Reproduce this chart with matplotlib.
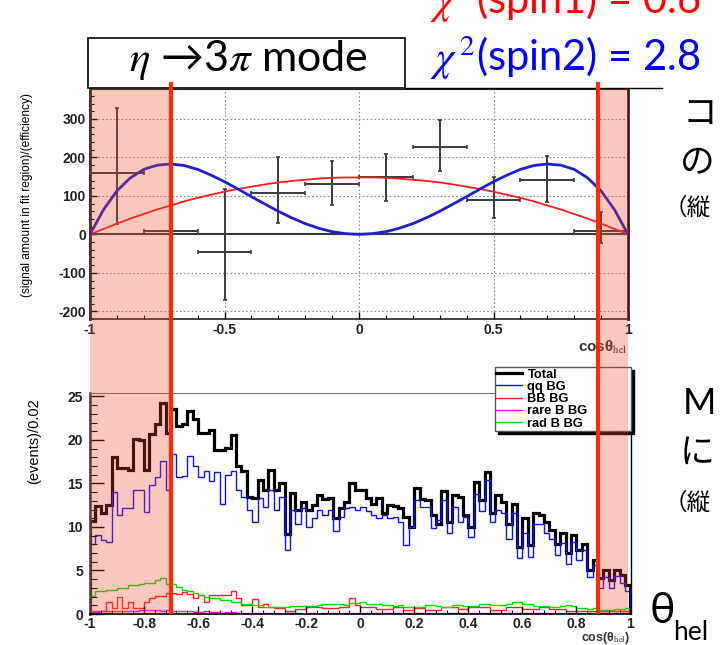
import numpy as np
import matplotlib
matplotlib.use('Agg')
import matplotlib.pyplot as plt
import matplotlib.transforms as mtransforms
from matplotlib.patches import Rectangle
from matplotlib.lines import Line2D

plt.rcParams['font.family'] = ['Liberation Sans', 'DejaVu Sans']
plt.rcParams['mathtext.fontset'] = 'stix'

# ---- top panel: efficiency corrected signal yield vs cos(theta_hel)
bin_centers = [-0.9, -0.7, -0.5, -0.3, -0.1, 0.1, 0.3, 0.5, 0.7, 0.9]
signal_yield = [160, 10, -47, 108, 130, 148, 227, 90, 142, 8]
err_low = [134, 92, 124, 78, 54, 61, 62, 48, 57, 31]
err_high = [169, 114, 165, 92, 62, 61, 71, 59, 62, 51]
bin_halfwidth = 0.1

curve_x = [-1.0, -0.95, -0.9, -0.85, -0.8, -0.75, -0.7, -0.65, -0.6, -0.55, -0.5,
           -0.45, -0.4, -0.35, -0.3, -0.25, -0.2, -0.15, -0.1, -0.05, 0.0,
           0.05, 0.1, 0.15, 0.2, 0.25, 0.3, 0.35, 0.4, 0.45, 0.5,
           0.55, 0.6, 0.65, 0.7, 0.75, 0.8, 0.85, 0.9, 0.95, 1.0]
spin1_fit = [0, 14, 28, 41, 53, 65, 75, 86, 95, 103, 111,
             118, 124, 130, 135, 139, 142, 145, 147, 148, 148,
             148, 147, 145, 142, 139, 135, 130, 124, 118, 111,
             103, 95, 86, 75, 65, 53, 41, 28, 14, 0]
spin2_fit = [0, 64, 113, 147, 169, 180, 183, 179, 169, 154, 137,
             118, 98, 79, 60, 43, 28, 16, 7, 2, 0,
             2, 7, 16, 28, 43, 60, 79, 98, 118, 137,
             154, 169, 179, 183, 180, 169, 147, 113, 64, 0]

# ---- bottom panel: background MC, 100 bins of 0.02
hist_edges = np.linspace(-1, 1, 101)
total = [10.7, 12.4, 11.6, 12.5, 18.0, 16.8, 16.8, 16.5, 20.1, 20.0,
         16.6, 20.7, 21.8, 24.3, 20.8, 23.6, 21.6, 21.8, 23.3, 22.4,
         20.8, 20.8, 21.2, 18.9, 18.9, 19.1, 20.6, 17.0, 16.4, 13.4,
         13.3, 15.4, 14.2, 16.6, 14.3, 15.0, 9.2, 13.9, 12.0, 12.9,
         12.0, 12.5, 13.7, 13.2, 13.3, 11.0, 12.2, 12.9, 15.0, 14.3,
         14.3, 13.3, 12.7, 13.3, 11.6, 12.5, 12.4, 12.2, 11.2, 10.0,
         14.5, 13.2, 13.1, 11.4, 10.4, 14.1, 10.6, 13.7, 13.5, 11.4,
         10.0, 15.2, 13.1, 16.3, 11.6, 13.7, 12.9, 10.4, 12.6, 7.7,
         11.0, 7.9, 11.6, 11.4, 10.6, 9.6, 8.1, 9.3, 7.0, 9.1,
         7.4, 8.1, 5.1, 6.2, 4.1, 5.1, 3.9, 5.1, 4.5, 3.3]
qq_bg = [8.0, 9.1, 8.5, 8.3, 14.0, 11.4, 12.2, 12.2, 14.2, 14.3,
         11.7, 14.8, 15.8, 17.6, 14.3, 18.4, 15.7, 15.9, 18.2, 17.0,
         15.7, 16.4, 15.3, 16.3, 12.7, 16.0, 16.4, 14.3, 13.5, 12.0,
         10.6, 13.3, 12.3, 14.3, 12.0, 13.5, 7.4, 12.0, 10.4, 12.2,
         10.0, 11.0, 12.0, 11.4, 12.0, 9.5, 11.2, 12.2, 12.3, 12.0,
         12.3, 11.8, 11.4, 11.0, 11.4, 11.0, 11.2, 10.6, 7.9, 10.0,
         13.1, 12.3, 12.3, 9.9, 10.8, 13.1, 9.3, 12.3, 10.6, 11.2,
         8.9, 13.8, 11.8, 15.4, 10.6, 12.0, 11.6, 8.6, 11.6, 6.4,
         9.3, 6.5, 10.4, 10.4, 9.3, 8.6, 6.8, 8.2, 5.8, 8.3,
         6.2, 7.4, 4.2, 5.6, 3.0, 4.2, 3.0, 4.4, 3.6, 2.6]
bb_bg = [0.3, 0.3, 0.3, 1.4, 0.65, 2.0, 0.65, 1.4, 0.65, 0.65,
         1.4, 1.8, 2.1, 2.1, 2.4, 2.4, 2.3, 2.5, 2.3, 1.8,
         2.2, 1.4, 2.2, 2.2, 2.2, 2.2, 2.6, 1.8, 1.0, 1.0,
         1.7, 0.85, 1.2, 0.85, 0.65, 0.65, 0.3, 0.3, 0.55, 0.55,
         0.85, 0.85, 0.85, 0.65, 0.65, 0.65, 0.85, 0.85, 1.8, 1.0,
         0.85, 0.75, 0.75, 0.55, 0.55, 0.55, 0.85, 0.85, 0.45, 0.45,
         0.65, 0.65, 0.45, 0.45, 0.45, 0.75, 0.75, 0.75, 0.55, 0.55,
         0.75, 0.75, 0.75, 0.75, 0.45, 0.45, 0.45, 0.85, 0.85, 0.85,
         0.55, 0.55, 0.55, 0.85, 0.85, 0.55, 0.55, 0.55, 0.35, 0.35,
         0.35, 0.35, 0.3, 0.3, 0.3, 0.3, 0.3, 0.3, 0.3, 0.3]
rare_bg = [0.25, 0.25, 0.3, 0.3, 0.3, 0.35, 0.35, 0.4, 0.4, 0.45,
           0.45, 0.5, 0.45, 0.4, 0.45, 0.35, 0.3, 0.35, 0.3, 0.25,
           0.25, 0.3, 0.2, 0.25, 0.15, 0.2, 0.2, 0.1, 0.15, 0.15,
           0.1, 0.1, 0.15, 0.1, 0.1, 0.05, 0.1, 0.1, 0.1, 0.05,
           0.1, 0.1, 0.05, 0.1, 0.15, 0.1, 0.1, 0.15, 0.15, 0.1,
           0.15, 0.1, 0.15, 0.1, 0.1, 0.15, 0.1, 0.1, 0.15, 0.1,
           0.1, 0.15, 0.1, 0.1, 0.1, 0.15, 0.1, 0.1, 0.1, 0.15,
           0.1, 0.1, 0.15, 0.1, 0.1, 0.1, 0.15, 0.1, 0.1, 0.1,
           0.15, 0.1, 0.1, 0.1, 0.1, 0.1, 0.1, 0.1, 0.1, 0.1,
           0.1, 0.05, 0.1, 0.1, 0.1, 0.1, 0.05, 0.1, 0.1, 0.1]
rad_bg = [2.1, 2.6, 2.6, 2.8, 2.8, 3.0, 3.0, 3.3, 3.3, 3.4,
          3.6, 3.6, 3.9, 4.1, 3.5, 3.4, 3.1, 2.8, 2.6, 2.4,
          2.2, 2.0, 1.8, 1.8, 1.6, 1.6, 1.4, 1.4, 1.2, 1.2,
          1.0, 1.0, 0.85, 0.85, 0.8, 0.75, 0.75, 0.9, 0.9, 0.95,
          0.95, 0.9, 1.0, 1.1, 1.1, 1.2, 1.2, 1.0, 1.3, 1.3,
          1.4, 1.2, 1.15, 1.1, 1.0, 1.0, 0.95, 1.0, 0.85, 0.85,
          0.8, 0.85, 1.0, 1.0, 0.9, 0.85, 0.8, 1.0, 1.0, 0.9,
          0.95, 0.95, 1.2, 1.1, 1.0, 1.0, 1.0, 1.1, 1.4, 1.4,
          1.1, 1.1, 0.95, 0.95, 0.9, 0.85, 0.8, 0.9, 1.0, 0.9,
          0.65, 0.7, 0.6, 0.65, 0.5, 0.45, 0.45, 0.55, 0.6, 0.65]

# helicity cut window
cut_low = -0.7
cut_high = 0.89

W, H = 720, 645
def fx(px): return px / W
def fy(py): return 1 - py / H

fig = plt.figure(figsize=(7.2, 6.45), dpi=100)

def bold_ticks(ax):
  for t in ax.get_xticklabels() + ax.get_yticklabels():
    t.set_fontweight('bold')
    t.set_color('#222222')

# ---------------- top plot
ax = fig.add_axes([fx(90), fy(319), fx(628) - fx(90), fy(89) - fy(319)])
ax.set_xlim(-1, 1)
ax.set_ylim(-220, 378)
ax.grid(True, which='major', color='#8a8a8a', ls=(0, (1.5, 2)), lw=0.8)
ax.set_axisbelow(True)
ax.axhline(0, color='#3a3a3a', lw=1.5, zorder=2)
ax.errorbar(bin_centers, signal_yield, xerr=bin_halfwidth, yerr=[err_low, err_high],
            fmt='none', ecolor='#3a3a3a', elinewidth=1.4, capsize=1.5, capthick=1.2, zorder=3)
ax.plot(curve_x, spin1_fit, color='#ff1a1a', lw=1.3, zorder=4)
ax.plot(curve_x, spin2_fit, color='#1f1fcc', lw=2.0, zorder=4)
ax.set_xticks([-1, -0.5, 0, 0.5, 1])
ax.set_xticklabels(['-1', '-0.5', '0', '0.5', '1'])
ax.set_xticks(np.arange(-1, 1.001, 0.1), minor=True)
ax.set_yticks([-200, -100, 0, 100, 200, 300])
ax.set_yticklabels(['-200', '-100', '0', '100', '200', '300'])
ax.set_yticks(np.arange(-220, 378, 20), minor=True)
ax.tick_params(which='both', direction='in', top=False, right=False, labelsize=10, pad=3)
ax.tick_params(which='major', length=5, width=1)
ax.tick_params(which='minor', length=3, width=0.8)
bold_ticks(ax)
for s, lw in (('left', 2.0), ('right', 2.0), ('bottom', 1.2), ('top', 0.8)):
  ax.spines[s].set_linewidth(lw)
  ax.spines[s].set_color('#222222')
ax.set_ylabel('(signal amount in fit region)/(efficiency)', fontsize=8.6)
ax.yaxis.set_label_coords(-0.106, 0.54)
ax.set_xlabel(r'cosθ$_{\mathrm{hel}}$', loc='right', fontsize=11, fontweight='bold',
              color='#333333', labelpad=1)

# ---------------- bottom plot
bx = fig.add_axes([fx(90), fy(614), fx(630.5) - fx(90), fy(393) - fy(614)])
bx.set_xlim(-1, 1)
bx.set_ylim(0, 25.4)
bx.stairs(total, hist_edges, color='black', lw=2.3, label='Total')
bx.stairs(qq_bg, hist_edges, color='#1010ff', lw=1.0, label='qq BG')
bx.stairs(bb_bg, hist_edges, color='#ff2020', lw=1.0, label='BB BG')
bx.stairs(rare_bg, hist_edges, color='#ff00ff', lw=1.0, label='rare B BG')
bx.stairs(rad_bg, hist_edges, color='#00e000', lw=1.0, label='rad B BG')
bx.set_xticks(np.arange(-1, 1.001, 0.2))
bx.set_xticklabels(['-1', '-0.8', '-0.6', '-0.4', '-0.2', '0', '0.2', '0.4', '0.6', '0.8', '1'])
bx.set_xticks(np.arange(-1, 1.001, 0.04), minor=True)
bx.set_yticks([0, 5, 10, 15, 20, 25])
bx.set_yticks(np.arange(0, 25.5, 1), minor=True)
bx.tick_params(which='both', direction='in', top=False, right=False, labelsize=10, pad=2)
bx.tick_params(axis='y', which='major', length=10, width=1, pad=5)
bx.tick_params(axis='y', which='minor', length=5, width=0.8)
bx.tick_params(axis='x', which='major', length=6, width=1)
bx.tick_params(axis='x', which='minor', length=3, width=0.8)
bold_ticks(bx)
bx.spines['top'].set_color('#777777')
bx.spines['top'].set_linewidth(0.8)
bx.spines['left'].set_linewidth(1.8)
bx.spines['left'].set_color('#333333')
bx.spines['right'].set_linewidth(1.0)
bx.spines['bottom'].set_linewidth(1.2)
bx.set_ylabel('(events)/0.02', loc='top', fontsize=10.5)
bx.yaxis.set_label_coords(-0.091, 0.977)
bx.set_xlabel(r'cos(θ$_{\mathrm{hel}}$)', loc='right', fontsize=9, fontweight='bold',
              color='#333333')
bx.xaxis.set_label_coords(1.0, -0.072)
leg = bx.legend(loc='upper left', bbox_to_anchor=(0.749, 1.118, 0.2516, 0), mode='expand',
                borderaxespad=0, prop={'weight': 'bold', 'size': 9.3},
                labelspacing=0.02, borderpad=0.12, handlelength=2.0, handletextpad=0.4,
                fancybox=False, edgecolor='#555555', framealpha=1,
                shadow={'color': 'black', 'alpha': 1})
leg.get_frame().set_linewidth(1.0)

# ---------------- slide overlays: cut window shading and cut lines
blend = mtransforms.blended_transform_factory(ax.transData, fig.transFigure)
for x0, x1 in ((-1, cut_low), (cut_high, 1)):
  fig.add_artist(Rectangle((x0, fy(613)), x1 - x0, fy(89) - fy(613), transform=blend,
                           facecolor='#ee4826', alpha=0.3, edgecolor='none', zorder=5))
for xc in (cut_low, cut_high):
  fig.add_artist(Line2D([xc, xc], [fy(612), fy(84)], transform=blend,
                        color='#ff2a00', lw=3.0, zorder=6))

# image border line and mode box
fig.add_artist(Line2D([fx(405), fx(662)], [fy(87.5), fy(87.5)], color='black', lw=1.0))
fig.add_artist(Rectangle((fx(88), fy(88)), fx(405) - fx(88), fy(38) - fy(88),
                         transform=fig.transFigure, fill=False, edgecolor='black', lw=1.2))
lato = ['Lato', 'DejaVu Sans']
fig.text(fx(248), fy(60), r'$\eta$ →3$\pi$ mode', ha='center', va='center', fontsize=31,
         family=lato)

fig.text(fx(430), fy(1), r'$\chi^{\,2}$(spin1) = 0.6', ha='left', va='center', fontsize=30,
         color='#ff0000', family=lato)
fig.text(fx(430), fy(58), r'$\chi^{\,2}$(spin2) = 2.8', ha='left', va='center', fontsize=30,
         color='#0000ff', family=lato)

jp = ['Noto Sans CJK JP', 'DejaVu Sans']
fig.text(fx(683), fy(114), 'コ', fontsize=25, va='center', family=jp)
fig.text(fx(680), fy(164), 'の', fontsize=25, va='center', family=jp)
fig.text(fx(664), fy(208), '（縦', fontsize=17, va='center', family=jp)
fig.text(fx(683), fy(403), 'M', fontsize=26, va='center', family=lato)
fig.text(fx(680), fy(453), 'に', fontsize=25, va='center', family=jp)
fig.text(fx(664), fy(503), '（縦', fontsize=17, va='center', family=jp)
fig.text(fx(650), fy(611), 'θ', fontsize=31, va='center', family=lato)
fig.text(fx(673), fy(632), 'hel', fontsize=19, va='center', family=lato)

fig.savefig('out.png', dpi=100)
